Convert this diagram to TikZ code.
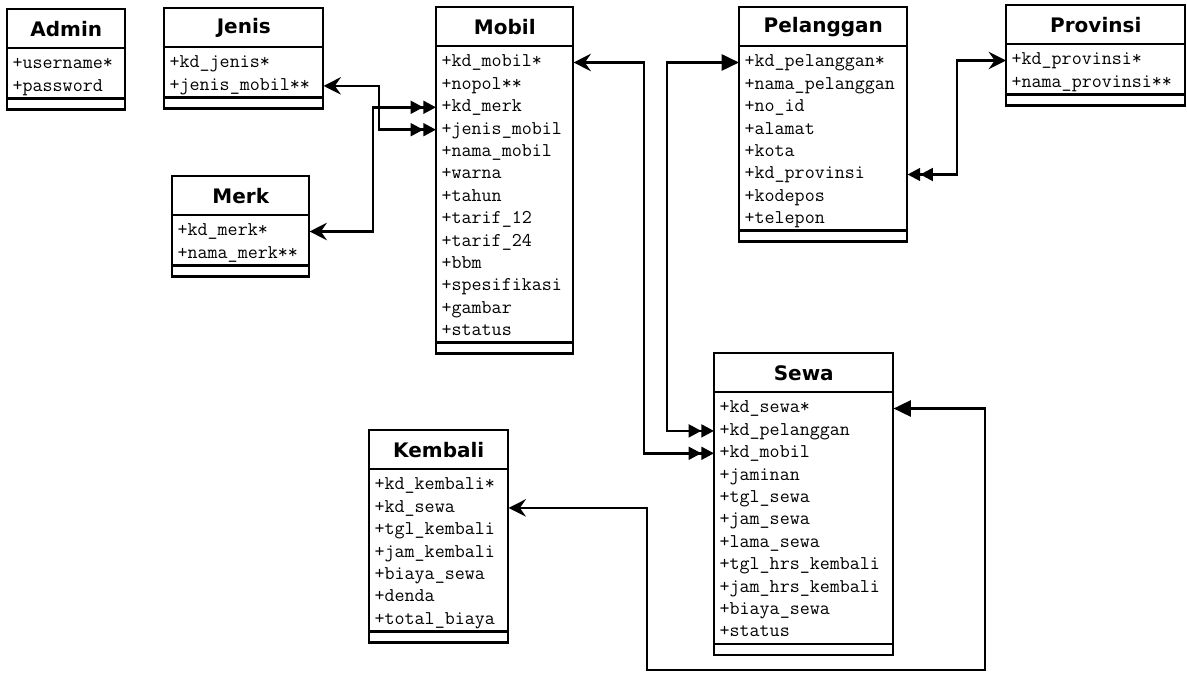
\documentclass[tikz,border=0pt]{standalone}
\usepackage{fontspec}
\newfontfamily\titlefont{DejaVu Sans}
\usetikzlibrary{arrows.meta}
\tikzset{
  frame/.style={line width=2pt},
  titlebox/.style={inner sep=0pt, minimum height=29.25pt, font=\titlefont\bfseries\fontsize{15}{17}\selectfont},
  rowbox/.style={inner xsep=4pt, inner ysep=0pt, minimum height=16.8pt, align=left,
    font=\ttfamily\fontsize{14.6}{16}\selectfont, text height=9pt, text depth=2.5pt},
  conn/.style={line width=2pt},
  sgl/.tip={Stealth[length=13pt,width=13pt,inset=4.5pt]},
  tri/.tip={Triangle[length=13pt,width=12pt]},
  dbl/.tip={Triangle[length=9.5pt,width=9.5pt,sep=0pt] Triangle[length=9.5pt,width=9.5pt]}
}
% #1 id, #2 title, #3 x, #4 y, #5 width, #6 number of rows, #7 rows
\newcommand{\entity}[7]{%
  \pgfmathsetmacro{\ew}{#5*0.75}%
  \pgfmathsetmacro{\etw}{#5*0.75-8}%
  \pgfmathsetmacro{\ya}{#4+67+(#6-1)*22.4}%
  \pgfmathsetmacro{\yb}{\ya+11}%
  \node[titlebox, minimum width=\ew pt, anchor=north west] (#1) at (#3,#4) {#2};
  \foreach \r [count=\i] in {#7} {
    \node[rowbox, text width=\etw pt, anchor=west] (#1-\i) at (#3,{#4+55.5+(\i-1)*22.4}) {\r};
  }
  \draw[frame] (#3,#4) rectangle ({#3+#5},\yb);
  \draw[frame] (#3,{#4+39}) -- ({#3+#5},{#4+39});
  \draw[frame] (#3,\ya) -- ({#3+#5},\ya);
}
\begin{document}
\begin{tikzpicture}[x=0.75pt,y=-0.75pt]
\fill[white] (0,0) rectangle (1187,673);
\useasboundingbox (0,0) rectangle (1187,673);

\entity{admin}{Admin}{7}{9}{118}{2}{+username*,+password}
\entity{jenis}{Jenis}{164}{8}{159}{2}{+kd\_jenis*,+jenis\_mobil**}
\entity{merk}{Merk}{172}{176}{137}{2}{+kd\_merk*,+nama\_merk**}
\entity{mobil}{Mobil}{436}{7}{137}{13}{+kd\_mobil*,+nopol**,+kd\_merk,+jenis\_mobil,+nama\_mobil,+warna,+tahun,+tarif\_12,+tarif\_24,+bbm,+spesifikasi,+gambar,+status}
\entity{pelanggan}{Pelanggan}{739}{7}{168}{8}{+kd\_pelanggan*,+nama\_pelanggan,+no\_id,+alamat,+kota,+kd\_provinsi,+kodepos,+telepon}
\entity{provinsi}{Provinsi}{1006}{5}{179}{2}{+kd\_provinsi*,+nama\_provinsi**}
\entity{sewa}{Sewa}{714}{353}{179}{11}{+kd\_sewa*,+kd\_pelanggan,+kd\_mobil,+jaminan,+tgl\_sewa,+jam\_sewa,+lama\_sewa,+tgl\_hrs\_kembali,+jam\_hrs\_kembali,+biaya\_sewa,+status}
\entity{kembali}{Kembali}{369}{430}{139}{7}{+kd\_kembali*,+kd\_sewa,+tgl\_kembali,+jam\_kembali,+biaya\_sewa,+denda,+total\_biaya}

% bend coordinates
\coordinate (bJ) at (379,0);
\coordinate (bK) at (373,0);
\coordinate (bM) at (644,0);
\coordinate (bP) at (667,0);
\coordinate (bV) at (957,0);
\coordinate (kr) at (985,670);
\coordinate (kl) at (647,670);

\draw[conn, {sgl}-{dbl}] (jenis-2.east) -- (jenis-2.east -| bJ) |- (mobil-4.west);
\draw[conn, {sgl}-{dbl}] (merk-1.east) -- (merk-1.east -| bK) |- (mobil-3.west);
\draw[conn, {sgl}-{dbl}] (mobil-1.east) -- (mobil-1.east -| bM) |- (sewa-3.west);
\draw[conn, {tri}-{dbl}] (pelanggan-1.west) -- (pelanggan-1.west -| bP) |- (sewa-2.west);
\draw[conn, {sgl}-{dbl}] (provinsi-1.west) -- (provinsi-1.west -| bV) |- (pelanggan-6.east);
\draw[conn, {tri}-{sgl}] (sewa-1.east) -| (kr) -- (kl) |- (kembali-2.east);
\end{tikzpicture}
\end{document}
